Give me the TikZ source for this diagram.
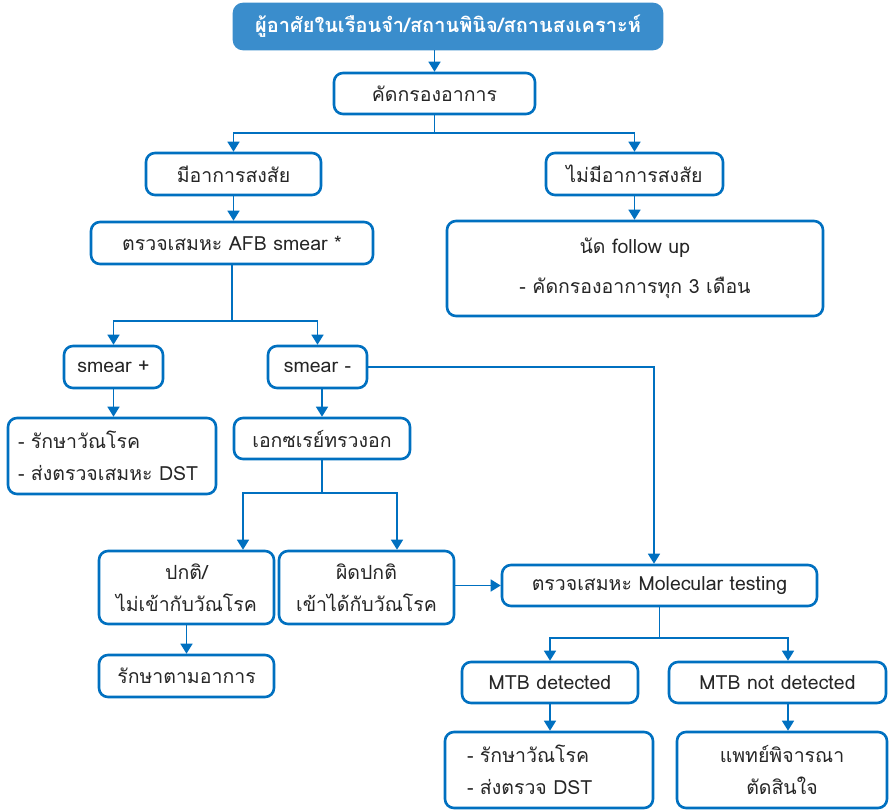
\documentclass[tikz,border=0pt]{standalone}
\usepackage{fontspec}
\setmainfont[Script=Thai]{Loma}
\usetikzlibrary{arrows.meta,calc}
\definecolor{lb}{HTML}{0070C0}
\definecolor{topfill}{HTML}{3A8DCC}
\definecolor{tx}{HTML}{262626}
\tikzset{
  box/.style={draw=lb, line width=2.6pt, rounded corners=9pt, fill=white, text=tx,
    align=center, inner sep=0pt, font=\fontsize{19.5}{32}\selectfont},
  conn/.style={draw=lb, line width=1.5pt},
  arr/.style={conn, -{Triangle[length=10pt,width=12pt]}},
}
\begin{document}
\begin{tikzpicture}[x=1pt,y=-1pt]
\useasboundingbox (0,0) rectangle (889,809);
% nodes
\node[box, fill=topfill, draw=topfill, text=white, font=\fontsize{20}{24}\selectfont\bfseries,
  minimum width=428, minimum height=45] (top) at (448,26.5) {ผู้อาศัยในเรือนจำ/สถานพินิจ/สถานสงเคราะห์};
\node[box, minimum width=201, minimum height=41] (screen) at (434.5,93.5) {คัดกรองอาการ};
\node[box, minimum width=175, minimum height=42] (sus) at (233.5,174) {มีอาการสงสัย};
\node[box, minimum width=177, minimum height=42] (nosus) at (634.5,174) {ไม่มีอาการสงสัย};
\node[box, minimum width=282, minimum height=42] (afb) at (232,243) {ตรวจเสมหะ AFB smear *};
\node[box, minimum width=376, minimum height=95, font=\fontsize{19.5}{40}\selectfont] (fu) at (635,268.5) {นัด follow up\\- คัดกรองอาการทุก 3 เดือน};
\node[box, minimum width=99, minimum height=42] (sp) at (113.5,367) {smear +};
\node[box, minimum width=99, minimum height=42] (sm) at (317.5,367) {smear -};
\node[box, minimum width=208, minimum height=76, align=left, text width=188, inner xsep=10pt] (treat1) at (112,456) {- รักษาวัณโรค\\- ส่งตรวจเสมหะ DST};
\node[box, minimum width=176, minimum height=41] (xray) at (322,438.5) {เอกซเรย์ทรวงอก};
\node[box, minimum width=175, minimum height=73] (normal) at (186.5,587.5) {ปกติ/\\ไม่เข้ากับวัณโรค};
\node[box, minimum width=175, minimum height=73] (abn) at (366.5,587.5) {ผิดปกติ\\เข้าได้กับวัณโรค};
\node[box, minimum width=175, minimum height=42] (symp) at (186.5,676) {รักษาตามอาการ};
\node[box, minimum width=315, minimum height=41] (mol) at (659.5,585.5) {ตรวจเสมหะ Molecular testing};
\node[box, minimum width=176, minimum height=41] (det) at (550,682.5) {MTB detected};
\node[box, minimum width=217, minimum height=41] (nodet) at (777.5,682.5) {MTB not detected};
\node[box, minimum width=208, minimum height=76, align=left, text width=164, inner xsep=22pt] (treat2) at (549,770) {- รักษาวัณโรค\\- ส่งตรวจ DST};
\node[box, minimum width=210, minimum height=76] (doc) at (782,770) {แพทย์พิจารณา\\ตัดสินใจ};
% connectors
\draw[arr] (top.south -| screen.north) -- (screen.north);
\coordinate (j1) at (434.5,133);
\draw[conn] (screen.south) -- (j1);
\draw[arr] (j1) -| (sus.north);
\draw[arr] (j1) -| (nosus.north);
\draw[arr] (sus.south) -- (sus.south |- afb.north);
\draw[arr] (nosus.south) -- (nosus.south |- fu.north);
\coordinate (j2) at (232,321);
\draw[conn] (afb.south) -- (j2);
\draw[arr] (j2) -| (sp.north);
\draw[arr] (j2) -| (sm.north);
\draw[arr] (sp.south) -- (sp.south |- treat1.north);
\draw[arr] (xray.north |- sm.south) -- (xray.north);
\coordinate (c1) at (654,367);
\draw[arr] (sm.east) -- (c1) -- (c1 |- mol.north);
\coordinate (j3) at (322,493);
\draw[conn] (xray.south) -- (j3);
\draw[arr] (j3) -| ($(normal.north)+(56.5,0)$);
\draw[arr] (j3) -| ($(abn.north)+(30.5,0)$);
\draw[arr] (abn.east |- mol.west) -- (mol.west);
\draw[arr] (normal.south) -- (normal.south |- symp.north);
\coordinate (j4) at (659.5,638);
\draw[conn] (mol.south) -- (j4);
\draw[arr] (j4) -| (det.north);
\draw[arr] (j4) -| ($(nodet.north)+(10.5,0)$);
\draw[arr] (det.south) -- (det.south |- treat2.north);
\coordinate (c2) at ($(nodet.south)+(10.5,0)$);
\draw[arr] (c2) -- (c2 |- doc.north);
\end{tikzpicture}
\end{document}
